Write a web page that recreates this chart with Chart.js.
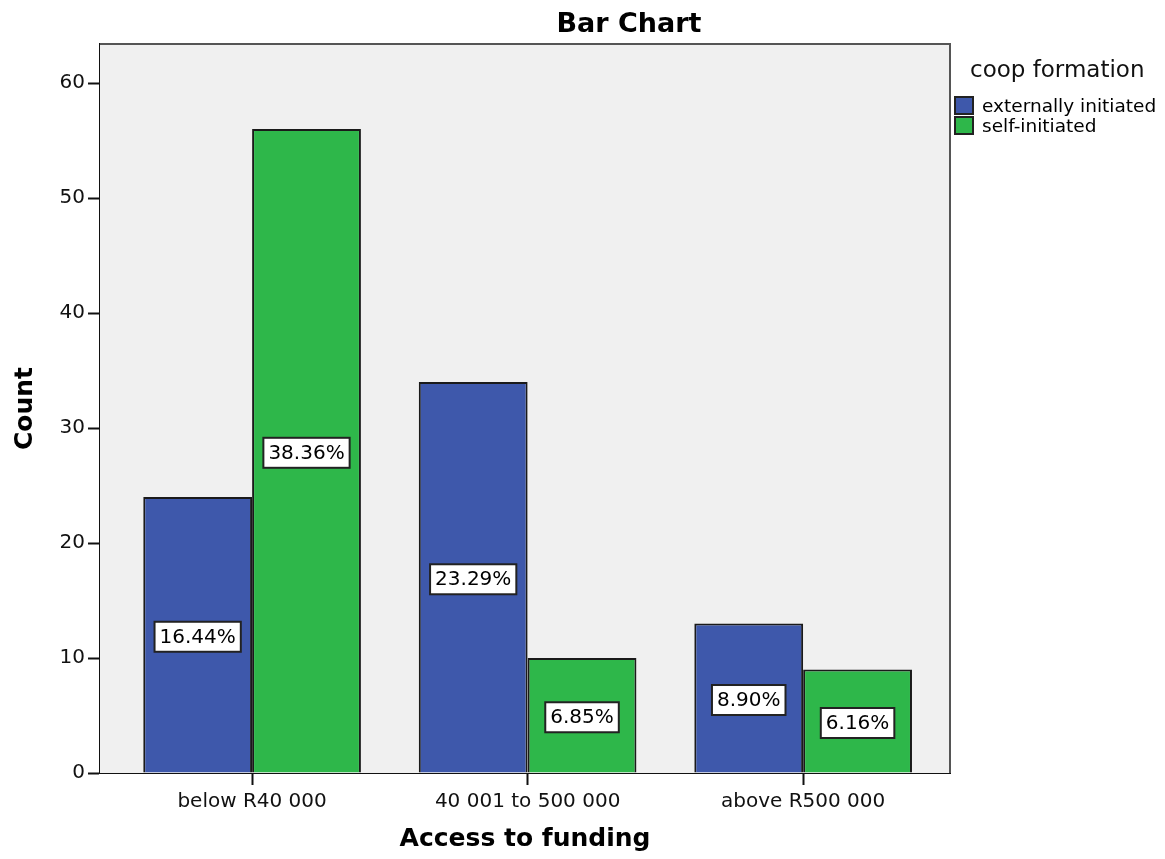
<!DOCTYPE html>
<html>
<head>
<meta charset="utf-8">
<title>Bar Chart</title>
<script src="https://cdn.jsdelivr.net/npm/chart.js@4.4.1/dist/chart.umd.min.js"></script>
<style>
  body { margin: 0; background: #fff; }
</style>
</head>
<body>
<canvas id="myChart" width="1165" height="859"></canvas>
<script>
// funding bands along the x axis
const categories = ["below R40 000", "40 001 to 500 000", "above R500 000"];
// counts per coop formation type
const externallyInitiated = [24, 34, 13];
const selfInitiated = [56, 10, 9];
const seriesNames = ["externally initiated", "self-initiated"];
const yTicks = [0, 10, 20, 30, 40, 50, 60];

const FONT = "'DejaVu Sans', sans-serif";
const total = externallyInitiated.concat(selfInitiated).reduce((a, b) => a + b, 0);

// grey plot background + top/right frame
const plotFrame = {
    id: "plotFrame",
    beforeDatasetsDraw(chart) {
        const a = chart.chartArea, ctx = chart.ctx;
        ctx.save();
        ctx.fillStyle = "#f0f0f0";
        ctx.fillRect(a.left, a.top, a.right - a.left, a.bottom - a.top);
        ctx.strokeStyle = "#555";
        ctx.lineWidth = 2;
        ctx.beginPath();
        ctx.moveTo(a.left, a.top);
        ctx.lineTo(a.right, a.top);
        ctx.lineTo(a.right, a.bottom);
        ctx.stroke();
        ctx.restore();
    }
};

// percentage of total in a white box at the middle of every bar
const pctLabels = {
    id: "pctLabels",
    afterDatasetsDraw(chart) {
        const ctx = chart.ctx;
        ctx.save();
        ctx.font = "20px " + FONT;
        ctx.textAlign = "center";
        ctx.textBaseline = "middle";
        chart.data.datasets.forEach((ds, di) => {
            chart.getDatasetMeta(di).data.forEach((bar, i) => {
                const txt = (ds.data[i].y / total * 100).toFixed(2) + "%";
                const w = ctx.measureText(txt).width + 10, h = 30;
                const cx = bar.x, cy = (bar.y + bar.base) / 2 + 2;
                ctx.fillStyle = "#fff";
                ctx.fillRect(cx - w / 2, cy - h / 2, w, h);
                ctx.strokeStyle = "#222";
                ctx.lineWidth = 2;
                ctx.strokeRect(cx - w / 2, cy - h / 2, w, h);
                ctx.fillStyle = "#000";
                ctx.fillText(txt, cx, cy + 1);
            });
        });
        ctx.restore();
    }
};

// chart title and the legend to the right of the plot
const headings = {
    id: "headings",
    afterDraw(chart) {
        const ctx = chart.ctx, a = chart.chartArea;
        ctx.save();
        ctx.fillStyle = "#000";
        ctx.textAlign = "center";
        ctx.textBaseline = "alphabetic";
        ctx.font = "bold 27px " + FONT;
        ctx.fillText("Bar Chart", 629, 32);

        ctx.textAlign = "left";
        ctx.font = "23px " + FONT;
        ctx.fillStyle = "#111";
        ctx.fillText("coop formation", a.right + 20, 77);
        chart.data.datasets.forEach((ds, i) => {
            const y = 97 + i * 20;
            ctx.fillStyle = ds.backgroundColor;
            ctx.fillRect(a.right + 5, y, 18, 17);
            ctx.strokeStyle = "#222";
            ctx.lineWidth = 2;
            ctx.strokeRect(a.right + 5, y, 18, 17);
            ctx.fillStyle = "#000";
            ctx.font = "18.5px " + FONT;
            ctx.fillText(ds.label, a.right + 32, y + 15);
        });
        ctx.restore();
    }
};

const toPoints = arr => arr.map((v, i) => ({ x: i, y: v }));

new Chart("myChart", {
    type: "bar",
    data: {
        datasets: [
            {
                label: seriesNames[0],
                data: toPoints(externallyInitiated),
                backgroundColor: "#3e58ab",
                borderColor: "#1a1a1a",
                borderWidth: 2,
            },
            {
                label: seriesNames[1],
                data: toPoints(selfInitiated),
                backgroundColor: "#2eb74a",
                borderColor: "#1a1a1a",
                borderWidth: 2,
            },
        ],
    },
    options: {
        responsive: false,
        animation: false,
        layout: { padding: { top: 44, right: 215, left: 0, bottom: 0 } },
        datasets: { bar: { categoryPercentage: 0.79, barPercentage: 1.0 } },
        plugins: {
            legend: { display: false },
            tooltip: { enabled: false },
        },
        scales: {
            x: {
                type: "linear",
                min: -0.552,
                max: 2.533,
                offset: false,
                afterFit: s => { s.height = 86; },
                afterBuildTicks: s => { s.ticks = categories.map((c, i) => ({ value: i })); },
                grid: { offset: false, drawOnChartArea: false, tickLength: 12, tickColor: "#111", tickWidth: 2 },
                border: { color: "#111", width: 2 },
                ticks: {
                    autoSkip: false,
                    maxRotation: 0,
                    padding: 5,
                    color: "#111",
                    font: { family: FONT, size: 20 },
                    callback: v => categories[v],
                },
                title: {
                    display: true,
                    text: "Access to funding",
                    color: "#000",
                    font: { family: FONT, size: 25, weight: "bold" },
                    padding: { top: 0, bottom: 5 },
                },
            },
            y: {
                min: 0,
                max: 63.4,
                afterFit: s => { s.width = 100; },
                afterBuildTicks: s => { s.ticks = yTicks.map(v => ({ value: v })); },
                grid: { drawOnChartArea: false, tickLength: 12, tickColor: "#111", tickWidth: 2 },
                border: { color: "#111", width: 2 },
                ticks: { color: "#111", padding: 3, font: { family: FONT, size: 20 } },
                title: {
                    display: true,
                    text: "Count",
                    color: "#000",
                    font: { family: FONT, size: 25, weight: "bold" },
                    padding: { top: 10, bottom: 0 },
                },
            },
        },
    },
    plugins: [plotFrame, pctLabels, headings],
});
</script>
</body>
</html>
